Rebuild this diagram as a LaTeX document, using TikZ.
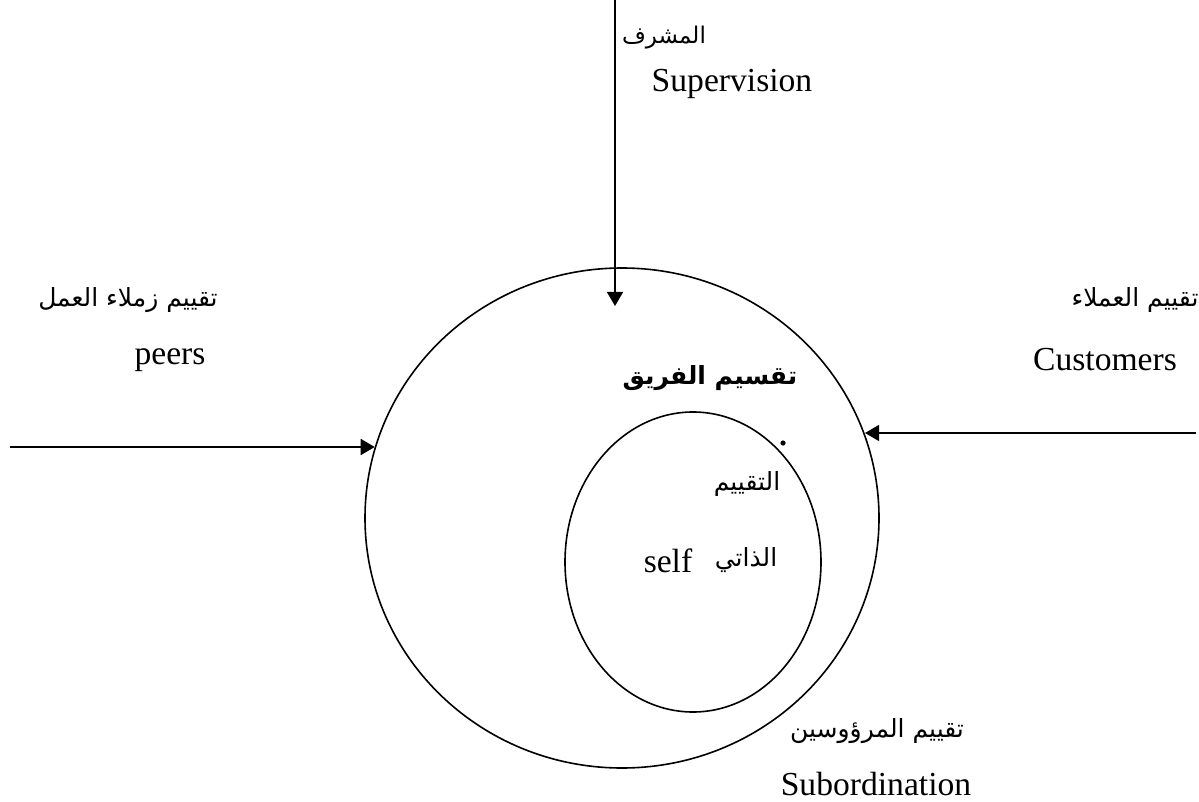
\documentclass[tikz,border=0pt]{standalone}
\usepackage{fontspec}
\setmainfont{Liberation Serif}
\newfontfamily\arabicfont[Script=Arabic]{DejaVu Sans}
\TeXXeTstate=1
\usetikzlibrary{arrows.meta,shapes.geometric}
\tikzset{
  ring/.style={draw, ellipse, line width=0.8pt, inner sep=0pt},
  feed/.style={line width=0.8pt, -{Triangle[length=7pt,width=8pt]}},
  latin/.style={font=\fontsize{16.8}{20}\selectfont, inner sep=0pt},
  arab/.style={font=\arabicfont\fontsize{12.5}{15}\selectfont, inner sep=0pt},
}
\begin{document}
\begin{tikzpicture}[x=0.5pt,y=-0.5pt]
\useasboundingbox (0,0) rectangle (1199,802);
% the two evaluation rings
\node[ring, minimum width=257pt, minimum height=250pt] (outer) at (622,518) {};
\node[ring, minimum width=128pt, minimum height=150pt] (inner) at (693,562) {};
\fill (783,443) circle (1.3pt);
% free ends of the incoming arrows
\coordinate (topEnd) at (615,0);
\coordinate (topTip) at (615,306);
\coordinate (leftEnd) at (10,447);
\coordinate (rightEnd) at (1196,433);
\draw[feed] (topEnd) -- (topTip);
\draw[feed] (leftEnd) -- (leftEnd -| outer.164.0);
\draw[feed] (rightEnd) -- (rightEnd -| outer.19.4);
% labels
\node[arab, font=\arabicfont\fontsize{11.5}{13}\selectfont] (supAr) at (664,38) {\beginR المشرف\endR};
\node[latin] (supEn) at (732,84) {Supervision};
\node[arab] (peerAr) at (128,300) {\beginR تقييم زملاء العمل\endR};
\node[latin] (peerEn) at (170,360) {peers};
\node[arab] (custAr) at (1135,300) {\beginR تقييم العملاء\endR};
\node[latin] (custEn) at (1105,360) {Customers};
\node[arab, font=\arabicfont\bfseries\fontsize{12.5}{15}\selectfont] (team) at (710,378) {\beginR تقسيم الفريق\endR};
\node[arab] (selfAr1) at (747,484) {\beginR التقييم\endR};
\node[arab] (selfAr2) at (746,560) {\beginR الذاتي\endR};
\node[latin] (selfEn) at (668,561) {self};
\node[arab] (subAr) at (877,731) {\beginR تقييم المرؤوسين\endR};
\node[latin] (subEn) at (876,784) {Subordination};
\end{tikzpicture}
\end{document}
